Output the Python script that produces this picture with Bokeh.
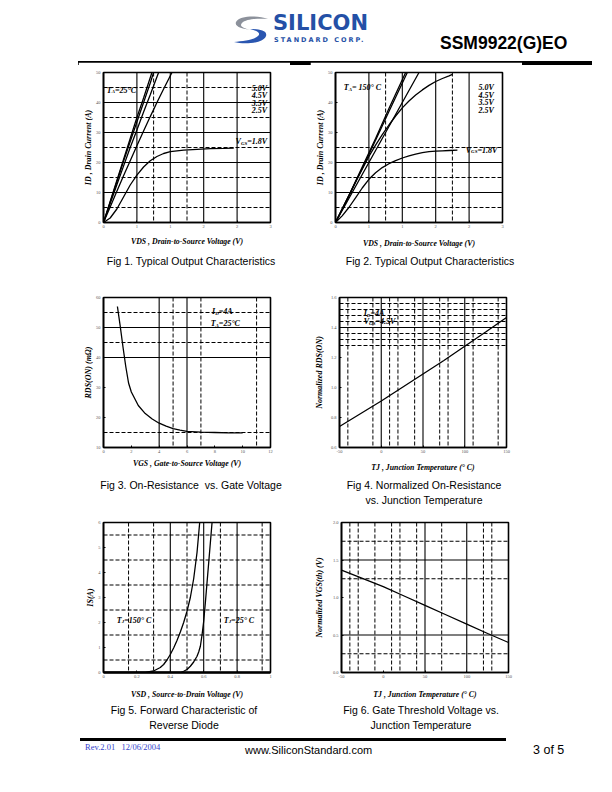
import math
from bokeh.plotting import figure
from bokeh.models import Range1d, FixedTicker, Span, Label, Div, Spacer
from bokeh.layouts import column, row
from bokeh.embed import file_html
from bokeh.resources import INLINE

SERIF = "Liberation Serif"
SANS = "Liberation Sans"

# ---------------- data ----------------
# Fig 1: typical output characteristics, T_A = 25 C
f1_x_ticks = [0, 0.5, 1.0, 1.5, 2.0, 2.5]
f1_x_labels = ["0", "1", "1", "2", "2", "3"]
f1_y_ticks = [0, 10, 20, 30, 40, 50]
f1_vds_5v0 = [0, 0.1, 0.2, 0.3, 0.4, 0.5, 0.6, 0.725]
f1_id_5v0 = [0, 7, 14, 21, 28, 35, 41.5, 50]
f1_vds_4v5 = [0, 0.1, 0.2, 0.3, 0.4, 0.5, 0.6, 0.7, 0.75]
f1_id_4v5 = [0, 6.8, 13.6, 20.4, 27, 33.5, 40, 46.5, 50]
f1_vds_3v5 = [0, 0.1, 0.2, 0.3, 0.4, 0.5, 0.6, 0.7, 0.825]
f1_id_3v5 = [0, 6.3, 12.6, 18.8, 25, 30.8, 36.8, 42.6, 50]
f1_vds_2v5 = [0, 0.1, 0.2, 0.3, 0.4, 0.5, 0.6, 0.7, 0.8, 0.9, 1.025]
f1_id_2v5 = [0, 5.2, 10.4, 15.6, 20.6, 25.6, 30.5, 35.3, 40, 44.5, 50]
f1_vds_1v8 = [0, 0.1, 0.2, 0.3, 0.4, 0.5, 0.6, 0.7, 0.8, 0.9, 1.0, 1.2, 1.4, 1.6, 1.8, 1.95]
f1_id_1v8 = [0, 1.5, 4.5, 8.5, 12.5, 15.8, 18.5, 20.6, 22.0, 23.0, 23.6, 24.1, 24.4, 24.6, 24.7, 24.8]

# Fig 2: typical output characteristics, T_A = 150 C
f2_vds_5v0 = [0, 0.2, 0.4, 0.6, 0.8, 1.05]
f2_id_5v0 = [0, 9, 18.5, 28, 38, 50]
f2_vds_4v5 = [0, 0.2, 0.4, 0.6, 0.8, 1.075]
f2_id_4v5 = [0, 8.8, 18, 27.4, 37, 50]
f2_vds_3v5 = [0, 0.2, 0.4, 0.6, 0.8, 1.0, 1.25]
f2_id_3v5 = [0, 8, 16, 24, 32, 40, 50]
f2_vds_2v5 = [0, 0.1, 0.2, 0.3, 0.4, 0.5, 0.6, 0.7, 0.8, 0.9, 1.0, 1.1, 1.2, 1.3, 1.4, 1.5, 1.6, 1.7, 1.75]
f2_id_2v5 = [0, 4.5, 9, 13.5, 17.8, 22, 25.8, 29.3, 32.5, 35.5, 38.2, 40.5, 42.5, 44.2, 45.7, 47, 48, 48.9, 49.4]
f2_vds_1v8 = [0, 0.1, 0.2, 0.3, 0.4, 0.5, 0.6, 0.7, 0.8, 0.9, 1.0, 1.1, 1.2, 1.3, 1.4, 1.5, 1.6, 1.7, 1.825]
f2_id_1v8 = [0, 2.2, 5, 8.2, 11.5, 14.4, 16.6, 18.3, 19.6, 20.6, 21.5, 22.2, 22.8, 23.3, 23.6, 23.8, 23.9, 24.0, 24.1]

# Fig 3: on-resistance vs gate voltage
f3_x_ticks = [0, 2, 4, 6, 8, 10, 12]
f3_y_ticks = [10, 20, 30, 40, 50, 60]
f3_vgs = [1.0, 1.2, 1.4, 1.6, 1.8, 2.0, 2.5, 3.0, 3.5, 4.0, 4.5, 5.0, 5.5, 6.0, 7.0, 8.0, 9.0, 10.0]
f3_rds = [57, 50.5, 43.5, 37, 31.5, 28.5, 24, 21.3, 19.5, 18.1, 17.1, 16.3, 15.8, 15.4, 15.1, 15.0, 14.9, 14.9]

# Fig 4: normalized on-resistance vs junction temperature
t_ticks = [-50, 0, 50, 100, 150]
f4_y_ticks = [0.6, 0.8, 1.0, 1.2, 1.4, 1.6]
f4_y_labels = ["0.6", "0.8", "1.0", "1.2", "1.4", "1.6"]
f4_tj = [-50, -25, 0, 25, 50, 75, 100, 125, 150]
f4_rn = [0.74, 0.825, 0.91, 1.0, 1.09, 1.18, 1.275, 1.37, 1.467]

# Fig 5: forward characteristic of reverse diode
f5_x_ticks = [0, 0.2, 0.4, 0.6, 0.8, 1.0]
f5_x_labels = ["0", "0.2", "0.4", "0.6", "0.8", "1"]
f5_y_ticks = [0, 1, 2, 3, 4, 5, 6]
f5_vsd_150 = [0, 0.25, 0.30, 0.34, 0.36, 0.38, 0.40, 0.42, 0.44, 0.46, 0.48, 0.50, 0.52, 0.54, 0.56, 0.576]
f5_is_150 = [0, 0, 0.06, 0.2, 0.32, 0.5, 0.72, 0.98, 1.28, 1.62, 2.0, 2.45, 3.0, 3.75, 4.8, 6.0]
f5_vsd_25 = [0, 0.46, 0.48, 0.50, 0.52, 0.54, 0.56, 0.57, 0.58, 0.59, 0.60, 0.61, 0.62, 0.63, 0.64, 0.65]
f5_is_25 = [0, 0, 0.05, 0.12, 0.25, 0.42, 0.65, 0.82, 1.05, 1.5, 2.05, 2.8, 3.6, 4.4, 5.2, 6.0]

# Fig 6: gate threshold voltage vs junction temperature
f6_y_ticks = [0.0, 0.5, 1.0, 1.5, 2.0]
f6_y_labels = ["0.0", "0.5", "1.0", "1.5", "2.0"]
f6_tj = [-50, -25, 0, 25, 50, 75, 100, 125, 150]
f6_vn = [1.364, 1.255, 1.145, 1.02, 0.895, 0.77, 0.645, 0.52, 0.40]

# ---------------- helpers ----------------
BI = {' ': 250, ',': 250, '.': 250, '-': 333, '(': 333, ')': 333, '=': 570, '°': 400, 'Ω': 768}
for c in "0123456789":
    BI[c] = 500
BI.update(dict(A=667, B=667, C=667, D=722, E=667, F=667, G=722, H=778, I=389, J=500, K=667,
               L=611, M=889, N=722, O=722, P=611, Q=722, R=667, S=556, T=611, U=722, V=667,
               W=889, X=667, Y=611, Z=611, a=500, b=500, c=444, d=500, e=444, f=333, g=500,
               h=556, i=278, j=278, k=500, l=278, m=778, n=556, o=500, p=500, q=500, r=389,
               s=389, t=278, u=556, v=444, w=667, x=500, y=444, z=389))


def rich(p, x, y, parts, size=8.0, align="left"):
    """Place text made of normal / subscript pieces; (x, y) is the cap centre."""
    sub_scale = 0.62
    sizes = [size * sub_scale if sub else size for _, sub in parts]
    widths = [sum(BI.get(c, 500) for c in t) * s / 1000.0 for (t, _), s in zip(parts, sizes)]
    total = sum(widths)
    pos = {"left": 0.0, "center": -total / 2.0, "right": -total}[align]
    shift = 0.33 * size
    for (t, sub), s, w in zip(parts, sizes, widths):
        drop = 0.22 * size if sub else 0.0
        p.add_layout(Label(x=x, y=y, x_offset=pos, y_offset=-shift - drop, text=t,
                           text_font=SERIF, text_font_size="%.2fpx" % s,
                           text_font_style="bold italic", text_color="black",
                           text_align="left", text_baseline="alphabetic"))
        pos += w


def base_fig(xr, yr, xt, xl, yt, yl, top, xlabel, ylabel, xstand, ystand):
    p = figure(output_backend="svg", toolbar_location=None, title=None,
               frame_width=167, frame_height=150,
               x_range=Range1d(*xr), y_range=Range1d(*yr),
               min_border_left=25, min_border_right=20, min_border_top=top, min_border_bottom=30,
               outline_line_color="black", outline_line_width=1.6,
               background_fill_color="white", border_fill_color="white", margin=0)
    p.xgrid.visible = False
    p.ygrid.visible = False
    p.xaxis.ticker = FixedTicker(ticks=xt)
    p.yaxis.ticker = FixedTicker(ticks=yt)
    p.xaxis.major_label_overrides = {t: l for t, l in zip(xt, xl)}
    p.yaxis.major_label_overrides = {t: l for t, l in zip(yt, yl)}
    for ax in (p.xaxis, p.yaxis):
        ax.axis_line_width = 1.6
        ax.axis_line_color = "black"
        ax.major_tick_in = 2
        ax.major_tick_out = 0
        ax.minor_tick_in = 0
        ax.minor_tick_out = 0
        ax.major_label_text_font = SERIF
        ax.major_label_text_font_size = "4.5px"
        ax.major_label_text_color = "#555555"
        ax.axis_label_text_font = SERIF
        ax.axis_label_text_font_style = "bold italic"
        ax.axis_label_text_color = "black"
    p.xaxis.major_label_standoff = 2
    p.yaxis.major_label_standoff = 3
    p.xaxis.axis_label = xlabel
    p.yaxis.axis_label = ylabel
    p.xaxis.axis_label_text_font_size = "7.8px"
    p.yaxis.axis_label_text_font_size = "8px"
    p.xaxis.axis_label_standoff = xstand
    p.yaxis.axis_label_standoff = ystand
    return p


def grid(p, solid_h=(), dash_h=(), solid_v=(), dash_v=()):
    for v in solid_h:
        p.add_layout(Span(location=v, dimension="width", line_color="black", line_width=1.1))
    for v in dash_h:
        p.add_layout(Span(location=v, dimension="width", line_color="black", line_width=1.0, line_dash="4 2"))
    for v in solid_v:
        p.add_layout(Span(location=v, dimension="height", line_color="black", line_width=1.1))
    for v in dash_v:
        p.add_layout(Span(location=v, dimension="height", line_color="black", line_width=1.0, line_dash="4 2"))


LW = 1.3
XL_DS = "VDS , Drain-to-Source Voltage (V)"
YL_ID = "ID , Drain Current (A)"
XL_TJ = "TJ , Junction Temperature (° C)"

# ---------------- Fig 1 ----------------
p1 = base_fig((0, 2.5), (0, 50), f1_x_ticks, f1_x_labels, f1_y_ticks, [str(v) for v in f1_y_ticks], 10,
              XL_DS, YL_ID, 6, 0)
grid(p1, [10, 20, 30, 40], [5, 15, 25, 35, 45], [0.5, 1.0, 1.5, 2.0], [0.75, 1.25])
for xs, ys in ((f1_vds_5v0, f1_id_5v0), (f1_vds_4v5, f1_id_4v5), (f1_vds_3v5, f1_id_3v5),
               (f1_vds_2v5, f1_id_2v5), (f1_vds_1v8, f1_id_1v8)):
    p1.line(xs, ys, line_color="black", line_width=LW)
rich(p1, 0.05, 45, [("T", 0), ("A", 1), ("=25°C", 0)])
for lab, yy in (("5.0V", 45.6), ("4.5V", 43.1), ("3.5V", 40.6), ("2.5V", 38.1)):
    rich(p1, 2.45, yy, [(lab, 0)], align="right")
rich(p1, 2.45, 27.8, [("V", 0), ("GS", 1), ("=1.8V", 0)], align="right")

# ---------------- Fig 2 ----------------
p2 = base_fig((0, 2.5), (0, 50), f1_x_ticks, f1_x_labels, f1_y_ticks, [str(v) for v in f1_y_ticks], 10,
              XL_DS, YL_ID, 8, 0)
grid(p2, [10, 20], [5, 15, 25], [0.5, 1.0, 1.5, 2.0], [0.75, 1.75])
for xs, ys in ((f2_vds_5v0, f2_id_5v0), (f2_vds_4v5, f2_id_4v5), (f2_vds_3v5, f2_id_3v5),
               (f2_vds_2v5, f2_id_2v5), (f2_vds_1v8, f2_id_1v8)):
    p2.line(xs, ys, line_color="black", line_width=LW)
rich(p2, 0.125, 45.8, [("T", 0), ("A", 1), (" = 150° C", 0)])
for lab, yy in (("5.0V", 45.8), ("4.5V", 43.3), ("3.5V", 40.8), ("2.5V", 38.3)):
    rich(p2, 2.14, yy, [(lab, 0)])
rich(p2, 1.95, 25, [("V", 0), ("GS", 1), ("=1.8V", 0)])

# ---------------- Fig 3 ----------------
p3 = base_fig((0, 12), (10, 60), f3_x_ticks, [str(v) for v in f3_x_ticks], f3_y_ticks, [str(v) for v in f3_y_ticks], 21,
              "VGS , Gate-to-Source Voltage (V)", "RDS(ON) (mΩ)", 3, 0)
grid(p3, [40, 50], [15, 45, 55], [4, 6], [5, 7, 11])
p3.line(f3_vgs, f3_rds, line_color="black", line_width=LW)
rich(p3, 7.8, 56.3, [("I", 0), ("D", 1), ("=4A", 0)])
rich(p3, 7.7, 52.2, [("T", 0), ("A", 1), ("=25°C", 0)])

# ---------------- Fig 4 ----------------
p4 = base_fig((-50, 150), (0.6, 1.6), t_ticks, [str(v) for v in t_ticks], f4_y_ticks, f4_y_labels, 21,
              XL_TJ, "Normalized RDS(ON)", 7, 4)
grid(p4, [1.4], [1.28, 1.32, 1.36, 1.44, 1.48, 1.52, 1.56], [0, 50, 100],
     [-40, -10, 10, 20, 40, 70, 80, 110, 140])
p4.line(f4_tj, f4_rn, line_color="black", line_width=LW)
rich(p4, -21, 1.511, [("I", 0), ("D", 1), ("=4A", 0)])
rich(p4, -21, 1.458, [("V", 0), ("GS", 1), ("=4.5V", 0)])

# ---------------- Fig 5 ----------------
p5 = base_fig((0, 1), (0, 6), f5_x_ticks, f5_x_labels, f5_y_ticks, [str(v) for v in f5_y_ticks], 15,
              "VSD , Source-to-Drain Voltage (V)", "IS(A)", 9, 0)
p5.xaxis.axis_line_width = 2.4
grid(p5, [], [0.5, 1.5, 2.5, 3.5, 4.5, 5.5], [0.4, 0.6, 0.8], [0.15, 0.3, 0.5, 0.7, 0.95])
p5.line(f5_vsd_150, f5_is_150, line_color="black", line_width=LW)
p5.line(f5_vsd_25, f5_is_25, line_color="black", line_width=LW)
rich(p5, 0.08, 2.2, [("T", 0), ("J", 1), ("=150° C", 0)])
rich(p5, 0.72, 2.2, [("T", 0), ("J", 1), ("=25° C", 0)])

# ---------------- Fig 6 ----------------
p6 = base_fig((-50, 150), (0.0, 2.0), t_ticks, [str(v) for v in t_ticks], f6_y_ticks, f6_y_labels, 15,
              XL_TJ, "Normalized VGS(th) (V)", 9, 6)
grid(p6, [0.5, 1.5], [0.25, 1.25, 1.75], [50, 100], [-40, -30, -10, 10, 20, 40, 70, 120, 130])
p6.line(f6_tj, f6_vn, line_color="black", line_width=LW)

# ---------------- page furniture ----------------
LOGO = ('<svg style="position:absolute;left:225px;top:8px" width="36" height="28" viewBox="0 0 36 28">'
        '<path d="M35,3 C24,-1 6,0 3,6 C1,11 10,13 18,14 C10,12 6,10 9,7 C13,3 26,2 35,3 Z" fill="#8c919b"/>'
        '<path d="M1,26 C12,29 31,27 33,20 C35,14 24,13 17,13 C25,15 28,17 25,20 C21,24 10,25 1,26 Z" fill="#2a56b0"/>'
        '</svg>')

header = Div(width=596, height=45, margin=0, text=(
    '<div style="position:relative;width:596px;height:45px;">' + LOGO +
    '<div style="position:absolute;left:265px;top:7px;font-family:\'DejaVu Sans\';font-weight:bold;'
    'font-size:21px;line-height:16px;color:#2450a6;white-space:nowrap;">SILICON</div>'
    '<div style="position:absolute;left:266px;top:29px;font-family:\'DejaVu Sans\';font-weight:bold;'
    'font-size:6.5px;line-height:7px;color:#2450a6;letter-spacing:2px;white-space:nowrap;">STANDARD CORP.</div>'
    '<div style="position:absolute;left:432px;top:27px;font-family:\'Liberation Sans\';font-weight:bold;'
    'font-size:17.5px;line-height:17px;color:#000;white-space:nowrap;">SSM9922(G)EO</div>'
    '</div>'))

topbar = Div(width=596, height=4, margin=0, text=(
    '<div style="position:relative;width:596px;height:4px;">'
    '<div style="position:absolute;left:70px;top:0px;width:514px;height:4px;background:#000;"></div>'
    '</div>'))


def cap_div(items, height):
    html = ('<div style="position:relative;width:596px;height:%dpx;font-family:\'Liberation Sans\',Arial,sans-serif;'
            'font-size:10.5px;color:#000;">' % height)
    for cx, top, lines in items:
        html += ('<div style="position:absolute;left:%.1fpx;top:%.1fpx;width:240px;text-align:center;'
                 'line-height:15px;white-space:pre;">%s</div>' % (cx - 8 - 120, top, "<br>".join(lines)))
    html += '</div>'
    return Div(text=html, width=596, height=height, margin=0)


cap1 = cap_div([(191, 1.5, ["Fig 1. Typical Output Characteristics"]),
                (430, 1.5, ["Fig 2. Typical Output Characteristics"])], 24)
cap2 = cap_div([(191, 0.5, ["Fig 3. On-Resistance  vs. Gate Voltage"]),
                (424, 0.5, ["Fig 4. Normalized On-Resistance", "vs. Junction Temperature"])], 30)
cap3 = cap_div([(184, 0.5, ["Fig 5. Forward Characteristic of", "Reverse Diode"]),
                (421, 0.5, ["Fig 6. Gate Threshold Voltage vs.", "Junction Temperature"])], 32)

footer = Div(width=596, height=28, margin=0, text=(
    '<div style="position:relative;width:596px;height:28px;">'
    '<div style="position:absolute;left:72px;top:4px;width:426px;height:3px;background:#000;"></div>'
    '<div style="position:absolute;left:77px;top:8px;font-family:\'Liberation Serif\';font-size:8.5px;'
    'line-height:10px;color:#3344cc;white-space:pre;">Rev.2.01   12/06/2004</div>'
    '<div style="position:absolute;left:237px;top:9.5px;font-family:\'Liberation Sans\';font-size:11px;'
    'line-height:13px;color:#000;white-space:nowrap;">www.SiliconStandard.com</div>'
    '<div style="position:absolute;left:525px;top:9px;font-family:\'Liberation Sans\';font-size:12.5px;'
    'line-height:14px;color:#000;white-space:nowrap;">3 of 5</div>'
    '</div>'))


def fig_row(a, b, gap):
    return row(Spacer(width=70, height=10, margin=0), a, Spacer(width=gap, height=10, margin=0), b, margin=0)


layout = column(Spacer(width=596, height=8, margin=0),
                row(Spacer(width=8, height=10, margin=0),
                    column(header, topbar, Spacer(width=596, height=5, margin=0),
                           fig_row(p1, p2, 20), cap1,
                           fig_row(p3, p4, 21), cap2,
                           fig_row(p5, p6, 21), cap3,
                           footer, margin=0),
                    margin=0),
                margin=0)

open("out.html", "w").write(file_html(layout, INLINE))
